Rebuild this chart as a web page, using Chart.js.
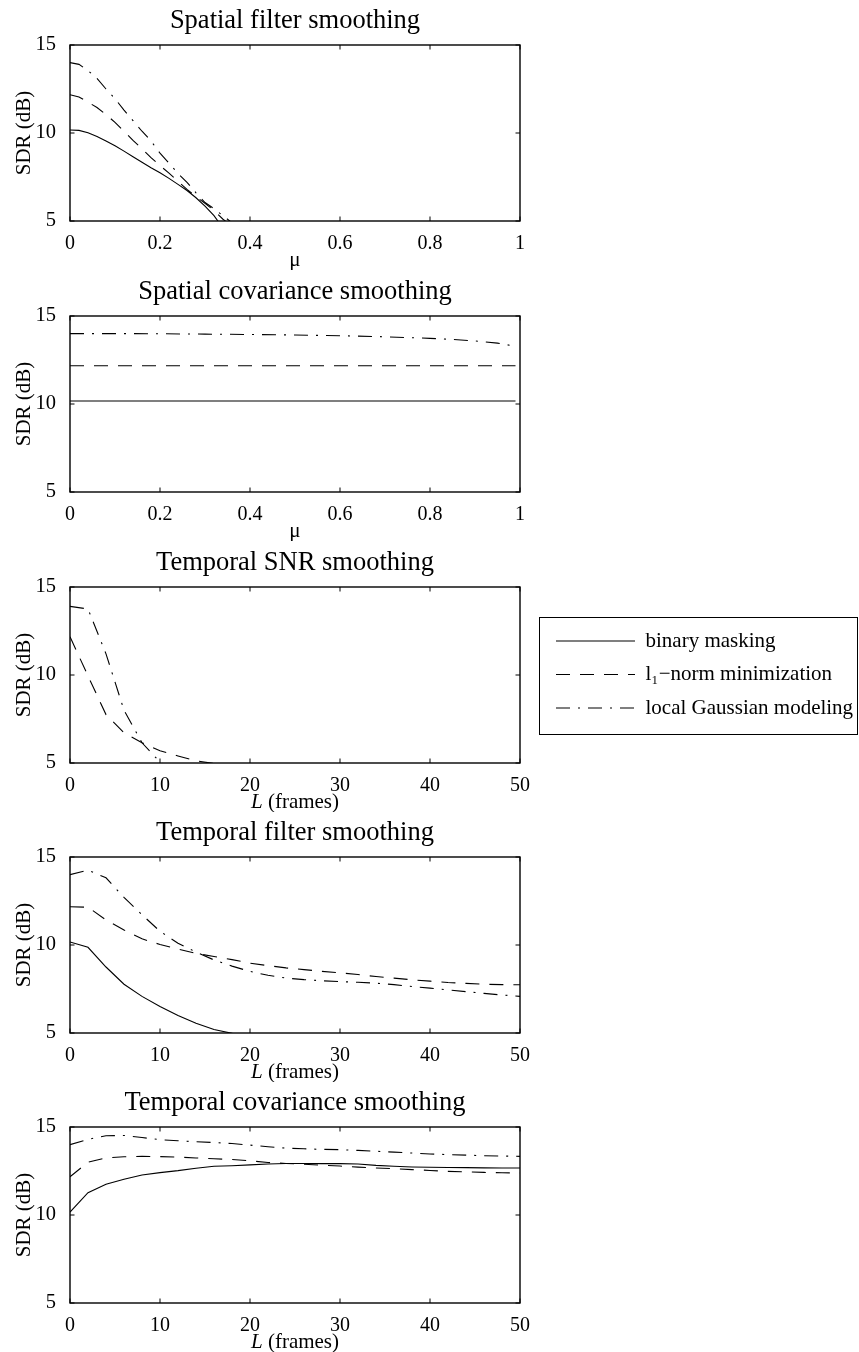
<!DOCTYPE html>
<html>
<head>
<meta charset="utf-8">
<title>SDR versus smoothing parameters</title>
<script src="https://cdn.jsdelivr.net/npm/chart.js"></script>
<style>
    * { margin: 0; padding: 0; box-sizing: border-box; }
    body { background: #fff; width: 859px; height: 1352px; position: relative; overflow: hidden; }
    canvas.panel { position: absolute; left: 0; }
    #legendBox {
        position: absolute; left: 539px; top: 617px;
        width: 319px; height: 118px;
        border: 1.5px solid #000; background: #fff;
    }
</style>
</head>
<body>
<canvas class="panel" id="p1" width="590" height="270" style="top:0px"></canvas>
<canvas class="panel" id="p2" width="590" height="270" style="top:271px"></canvas>
<canvas class="panel" id="p3" width="590" height="270" style="top:542px"></canvas>
<canvas class="panel" id="p4" width="590" height="270" style="top:812px"></canvas>
<canvas class="panel" id="p5" width="590" height="270" style="top:1082px"></canvas>
<div id="legendBox"><canvas id="legend" width="316" height="115"></canvas></div>

<script>
const FONT = '"Liberation Serif", "Times New Roman", serif';

// ticks
const yTicks = [5, 10, 15];
const muTicks = [0, 0.2, 0.4, 0.6, 0.8, 1];
const frameTicks = [0, 10, 20, 30, 40, 50];

// series names (same order in every panel)
const seriesNames = ['binary masking', 'l\u2081\u2212norm minimization', 'local Gaussian modeling'];
const dashes = [[], [14, 10], [14, 8, 2, 8]];

// Spatial filter smoothing (x = mu)
const mu1 = [0, 0.02, 0.04, 0.06, 0.08, 0.10, 0.12, 0.14, 0.16, 0.18, 0.20, 0.22, 0.24, 0.26, 0.28, 0.30, 0.32, 0.34, 0.36, 0.38];
const sfBinary = [10.17, 10.15, 10.02, 9.8, 9.55, 9.28, 8.97, 8.65, 8.34, 8.03, 7.74, 7.42, 7.08, 6.73, 6.32, 5.85, 5.3, 4.6, null, null];
const sfL1 = [12.17, 12.05, 11.75, 11.45, 11.05, 10.6, 10.1, 9.58, 9.1, 8.6, 8.15, 7.72, 7.25, 6.8, 6.38, 6.0, 5.6, 5.1, 4.7, null];
const sfLgm = [14.0, 13.9, 13.55, 13.1, 12.5, 11.95, 11.3, 10.7, 10.1, 9.55, 8.85, 8.28, 7.7, 7.2, 6.6, 6.05, 5.7, 5.3, 4.9, 4.5];

// Spatial covariance smoothing (x = mu)
const mu2 = [0, 0.1, 0.2, 0.3, 0.4, 0.5, 0.6, 0.7, 0.8, 0.85, 0.9, 0.95, 0.99];
const scBinary = [10.17, 10.17, 10.17, 10.17, 10.17, 10.17, 10.17, 10.17, 10.17, 10.17, 10.17, 10.17, 10.17];
const scL1 = [12.17, 12.17, 12.17, 12.17, 12.17, 12.17, 12.17, 12.17, 12.17, 12.17, 12.17, 12.17, 12.17];
const scLgm = [14.0, 14.0, 13.99, 13.97, 13.95, 13.92, 13.88, 13.82, 13.73, 13.67, 13.58, 13.46, 13.28];

// Temporal SNR smoothing (x = L frames)
const L3 = [0, 2, 4, 6, 8, 10, 12, 14, 16, 18];
const tsBinary = [];
const tsL1 = [12.17, 9.95, 7.75, 6.72, 6.15, 5.7, 5.4, 5.12, 4.97, 4.9];
const tsLgm = [13.9, 13.75, 11.2, 8.0, 6.15, 5.05, 4.6, null, null, null];

// Temporal filter / covariance smoothing (x = L frames)
const L = [0, 2, 4, 6, 8, 10, 12, 14, 16, 18, 20, 22, 24, 26, 28, 30, 32, 34, 36, 38, 40, 42, 44, 46, 48, 50];
const tfBinary = [10.17, 9.87, 8.75, 7.77, 7.08, 6.5, 6.0, 5.55, 5.2, 4.98, 4.75];
const tfL1 = [12.17, 12.15, 11.42, 10.85, 10.35, 10.03, 9.77, 9.52, 9.35, 9.17, 8.97, 8.83, 8.7, 8.6, 8.5, 8.42, 8.32, 8.21, 8.12, 8.02, 7.95, 7.87, 7.82, 7.77, 7.75, 7.74];
const tfLgm = [14.0, 14.25, 13.82, 12.7, 11.72, 10.78, 10.1, 9.6, 9.15, 8.8, 8.5, 8.28, 8.12, 8.03, 7.97, 7.92, 7.88, 7.83, 7.75, 7.64, 7.55, 7.45, 7.35, 7.25, 7.16, 7.08];

const tcBinary = [10.17, 11.27, 11.75, 12.03, 12.27, 12.41, 12.52, 12.66, 12.77, 12.8, 12.85, 12.9, 12.93, 12.93, 12.92, 12.92, 12.9, 12.82, 12.77, 12.73, 12.71, 12.7, 12.69, 12.68, 12.67, 12.67];
const tcL1 = [12.17, 13.0, 13.25, 13.31, 13.33, 13.32, 13.29, 13.24, 13.2, 13.15, 13.08, 12.98, 12.93, 12.88, 12.83, 12.78, 12.72, 12.67, 12.63, 12.58, 12.53, 12.48, 12.45, 12.42, 12.4, 12.39];
const tcLgm = [14.0, 14.3, 14.5, 14.52, 14.4, 14.28, 14.22, 14.16, 14.12, 14.06, 13.97, 13.88, 13.8, 13.76, 13.73, 13.71, 13.67, 13.62, 13.57, 13.52, 13.47, 13.43, 13.4, 13.37, 13.35, 13.33];

function pts(xs, ys) {
    return xs.map((x, i) => ({ x: x, y: ys[i] }))
             .filter(p => p.y !== null && p.y !== undefined);
}

// box round the plot area, inward ticks on all four sides, x label with italic parts
const boxPlugin = {
    id: 'matlabBox',
    afterDraw(chart, args, opts) {
        const { ctx, chartArea: a, scales } = chart;
        ctx.save();
        ctx.strokeStyle = '#000';
        ctx.lineWidth = 1.4;
        ctx.strokeRect(a.left, a.top, a.right - a.left, a.bottom - a.top);
        ctx.lineWidth = 1;
        ctx.beginPath();
        scales.x.ticks.forEach(t => {
            const px = scales.x.getPixelForValue(t.value);
            ctx.moveTo(px, a.bottom); ctx.lineTo(px, a.bottom - 4.5);
            ctx.moveTo(px, a.top); ctx.lineTo(px, a.top + 4.5);
        });
        scales.y.ticks.forEach(t => {
            const py = scales.y.getPixelForValue(t.value);
            ctx.moveTo(a.left, py); ctx.lineTo(a.left + 4.5, py);
            ctx.moveTo(a.right, py); ctx.lineTo(a.right - 4.5, py);
        });
        ctx.stroke();

        // x axis label
        const parts = opts.xLabel || [];
        const fontOf = p => (p.italic ? 'italic ' : '') + '21px ' + FONT;
        let total = 0;
        parts.forEach(p => { ctx.font = fontOf(p); total += ctx.measureText(p.t).width; });
        let x = (a.left + a.right) / 2 - total / 2;
        ctx.fillStyle = '#000';
        ctx.textBaseline = 'middle';
        ctx.textAlign = 'left';
        parts.forEach(p => {
            ctx.font = fontOf(p);
            ctx.fillText(p.t, x, a.bottom + 39);
            x += ctx.measureText(p.t).width;
        });
        ctx.restore();
    }
};

function makePanel(id, title, xs, ys, xTicks, xMax, xLabel) {
    return new Chart(document.getElementById(id), {
        type: 'line',
        data: {
            datasets: ys.map((v, i) => ({
                label: seriesNames[i],
                data: pts(xs, v),
                borderColor: '#000',
                borderWidth: 1.1,
                borderDash: dashes[i],
                pointRadius: 0,
                tension: 0,
                fill: false
            }))
        },
        options: {
            responsive: false,
            animation: false,
            events: [],
            layout: { padding: 0 },
            plugins: {
                legend: { display: false },
                tooltip: { enabled: false },
                title: {
                    display: true, text: title, color: '#000',
                    font: { family: FONT, size: 26.5, weight: 'normal' },
                    padding: { top: 5, bottom: 8.2 }
                },
                matlabBox: { xLabel: xLabel }
            },
            scales: {
                x: {
                    type: 'linear', min: 0, max: xMax,
                    grid: { display: false }, border: { display: false },
                    afterBuildTicks: s => { s.ticks = xTicks.map(v => ({ value: v })); },
                    afterFit: s => { s.height = 49; s.paddingLeft = 0; s.paddingRight = 0; },
                    ticks: {
                        color: '#000', font: { family: FONT, size: 20 },
                        padding: 3, maxRotation: 0, autoSkip: false,
                        callback: v => String(v)
                    }
                },
                y: {
                    min: 5, max: 15,
                    grid: { display: false }, border: { display: false },
                    afterBuildTicks: s => { s.ticks = yTicks.map(v => ({ value: v })); },
                    afterFit: s => { s.width = 70; s.paddingTop = 0; s.paddingBottom = 0; },
                    ticks: { color: '#000', font: { family: FONT, size: 20.5 }, padding: 6, callback: v => String(v) },
                    title: {
                        display: true, text: 'SDR (dB)', color: '#000',
                        font: { family: FONT, size: 21 }, padding: { top: 12, bottom: 0 }
                    }
                },
                yR: {
                    position: 'right', min: 5, max: 15,
                    grid: { display: false }, border: { display: false },
                    ticks: { display: false },
                    afterFit: s => { s.width = 70; }
                }
            }
        },
        plugins: [boxPlugin]
    });
}

const muLabel = [{ t: '\u03bc' }];
const frameLabel = [{ t: 'L', italic: true }, { t: ' (frames)' }];

makePanel('p1', 'Spatial filter smoothing', mu1, [sfBinary, sfL1, sfLgm], muTicks, 1, muLabel);
makePanel('p2', 'Spatial covariance smoothing', mu2, [scBinary, scL1, scLgm], muTicks, 1, muLabel);
makePanel('p3', 'Temporal SNR smoothing', L3, [tsBinary, tsL1, tsLgm], frameTicks, 50, frameLabel);
makePanel('p4', 'Temporal filter smoothing', L, [tfBinary, tfL1, tfLgm], frameTicks, 50, frameLabel);
makePanel('p5', 'Temporal covariance smoothing', L, [tcBinary, tcL1, tcLgm], frameTicks, 50, frameLabel);

// legend on its own small canvas
new Chart(document.getElementById('legend'), {
    type: 'line',
    data: {
        datasets: seriesNames.map((n, i) => ({
            label: n, data: [], borderColor: '#000', borderWidth: 1.1, borderDash: dashes[i]
        }))
    },
    options: {
        responsive: false,
        animation: false,
        events: [],
        layout: { padding: { left: 3.5 } },
        scales: { x: { display: false }, y: { display: false } },
        plugins: {
            tooltip: { enabled: false },
            legend: {
                display: true, position: 'left', align: 'start', maxWidth: 316,
                labels: {
                    usePointStyle: true, pointStyle: 'line', pointStyleWidth: 79,
                    padding: 12.5, color: '#000',
                    font: { family: FONT, size: 21 },
                    generateLabels: c => c.data.datasets.map((d, i) => ({
                        text: d.label,
                        fillStyle: 'rgba(0,0,0,0)',
                        strokeStyle: '#000',
                        lineWidth: 1.1,
                        lineDash: d.borderDash,
                        lineCap: 'butt',
                        pointStyle: 'line',
                        hidden: false,
                        datasetIndex: i,
                        fontColor: '#000'
                    }))
                }
            }
        }
    }
});
</script>
</body>
</html>
